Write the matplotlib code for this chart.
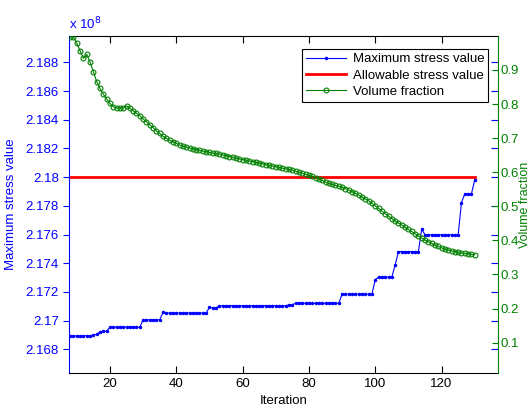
import numpy as np
import matplotlib
matplotlib.use("Agg")
import matplotlib.pyplot as plt
from matplotlib.ticker import FormatStrFormatter

plt.rcParams['font.family'] = ['Liberation Sans', 'DejaVu Sans']

# iterations shown in the plot
iterations = np.arange(8, 131)

# maximum stress value (x 1e8)
max_stress = [
    2.16893, 2.16893, 2.16893, 2.16893, 2.16893, 2.16895, 2.16890, 2.16898, 2.16905, 2.16920,
    2.16925, 2.16925, 2.16954, 2.16954, 2.16954, 2.16954, 2.16954, 2.16954, 2.16954, 2.16954,
    2.16954, 2.16954, 2.17005, 2.17005, 2.17005, 2.17005, 2.17005, 2.17005, 2.17057, 2.17052,
    2.17052, 2.17052, 2.17052, 2.17052, 2.17052, 2.17052, 2.17052, 2.17052, 2.17052, 2.17052,
    2.17052, 2.17052, 2.17093, 2.17088, 2.17088, 2.17103, 2.17103, 2.17103, 2.17103, 2.17103,
    2.17103, 2.17103, 2.17103, 2.17103, 2.17103, 2.17103, 2.17103, 2.17103, 2.17103, 2.17103,
    2.17103, 2.17103, 2.17103, 2.17103, 2.17103, 2.17103, 2.17110, 2.17112, 2.17120, 2.17120,
    2.17120, 2.17120, 2.17120, 2.17120, 2.17120, 2.17120, 2.17120, 2.17120, 2.17120, 2.17120,
    2.17120, 2.17120, 2.17184, 2.17184, 2.17184, 2.17184, 2.17184, 2.17184, 2.17184, 2.17184,
    2.17184, 2.17184, 2.17285, 2.17303, 2.17303, 2.17303, 2.17303, 2.17303, 2.17388, 2.17481,
    2.17481, 2.17481, 2.17481, 2.17481, 2.17481, 2.17481, 2.17637, 2.17598, 2.17598, 2.17598,
    2.17598, 2.17598, 2.17598, 2.17598, 2.17598, 2.17598, 2.17598, 2.17598, 2.17823, 2.17884,
    2.17884, 2.17884, 2.17981,
]

allowable_stress = 2.18

# volume fraction
volume_fraction = [
    0.998, 0.996, 0.978, 0.956, 0.934, 0.946, 0.924, 0.895, 0.866, 0.846,
    0.829, 0.815, 0.802, 0.792, 0.788, 0.789, 0.788, 0.794, 0.788, 0.780,
    0.773, 0.766, 0.756, 0.748, 0.739, 0.731, 0.721, 0.714, 0.705, 0.699,
    0.694, 0.689, 0.685, 0.680, 0.676, 0.674, 0.671, 0.669, 0.666, 0.664,
    0.662, 0.660, 0.658, 0.656, 0.655, 0.653, 0.651, 0.649, 0.646, 0.644,
    0.641, 0.639, 0.637, 0.635, 0.633, 0.631, 0.629, 0.627, 0.625, 0.622,
    0.620, 0.618, 0.616, 0.614, 0.612, 0.610, 0.608, 0.606, 0.603, 0.600,
    0.597, 0.594, 0.591, 0.588, 0.584, 0.580, 0.576, 0.571, 0.567, 0.564,
    0.561, 0.559, 0.556, 0.552, 0.548, 0.543, 0.538, 0.533, 0.527, 0.522,
    0.516, 0.509, 0.501, 0.494, 0.486, 0.478, 0.471, 0.464, 0.457, 0.451,
    0.445, 0.439, 0.432, 0.426, 0.419, 0.413, 0.407, 0.401, 0.396, 0.391,
    0.386, 0.382, 0.378, 0.375, 0.372, 0.369, 0.367, 0.365, 0.363, 0.362,
    0.361, 0.359, 0.358,
]

blue = (0, 0, 1)
green = (0, 0.5, 0)
fs = 9.5

fig = plt.figure(figsize=(5.32, 4.08), dpi=100)
ax1 = fig.add_axes([0.13, 0.086, 0.806, 0.826])
ax2 = ax1.twinx()

l1, = ax1.plot(iterations, max_stress, color=blue, lw=0.8, marker='.', ms=3)
l2, = ax1.plot([iterations[0], iterations[-1]], [allowable_stress, allowable_stress],
               color='red', lw=2)
l3, = ax2.plot(iterations, volume_fraction, color=green, lw=0.8, marker='o',
               ms=3.5, mfc='none', mew=0.8)

ax1.set_xlim(7.7, 137)
ax1.set_ylim(2.16635, 2.18985)
ax2.set_ylim(0.011, 1.0)

ax1.set_xticks(np.arange(20, 121, 20))
ax1.set_yticks(np.arange(2.168, 2.1885, 0.002))
ax1.yaxis.set_major_formatter(FormatStrFormatter('%g'))
ax2.set_yticks(np.arange(0.1, 0.95, 0.1))
ax2.yaxis.set_major_formatter(FormatStrFormatter('%g'))

ax1.tick_params(axis='x', direction='in', top=True, length=5, labelsize=fs, colors='black')
ax1.tick_params(axis='y', which='major', direction='out', left=True, right=False,
                length=4, labelsize=fs, colors=blue)
# blue ticks repeated inside on the right edge
ax1b = ax1.secondary_yaxis('right')
ax1b.set_yticks(np.arange(2.168, 2.1885, 0.002))
ax1b.tick_params(direction='in', length=5, color=blue, labelright=False)
ax1b.spines['right'].set_visible(False)
ax2.tick_params(axis='y', direction='in', length=4, labelsize=fs, colors=green, pad=2)

ax1.spines['left'].set_color(blue)
ax1.spines['right'].set_visible(False)
ax2.spines['right'].set_color(green)
ax2.spines['left'].set_visible(False)
ax2.spines['top'].set_visible(False)
ax2.spines['bottom'].set_visible(False)

ax1.set_xlabel('Iteration', fontsize=fs, labelpad=4)
ax1.set_ylabel('Maximum stress value', fontsize=fs, color=blue, labelpad=6)
ax2.set_ylabel('Volume fraction', fontsize=9, color=green, labelpad=0)
ax1.text(0.0, 1.012, r'x 10$^8$', transform=ax1.transAxes, color=blue,
         fontsize=fs, ha='left', va='bottom')

leg = ax2.legend([l1, l2, l3],
                 ['Maximum stress value', 'Allowable stress value', 'Volume fraction'],
                 loc='upper right', bbox_to_anchor=(0.9925, 0.98), fontsize=fs,
                 fancybox=False, edgecolor='black', framealpha=1,
                 handlelength=3.0, borderpad=0.3, labelspacing=0.3, handletextpad=0.5)
leg.get_frame().set_linewidth(0.8)

fig.savefig('out.png', dpi=100)
